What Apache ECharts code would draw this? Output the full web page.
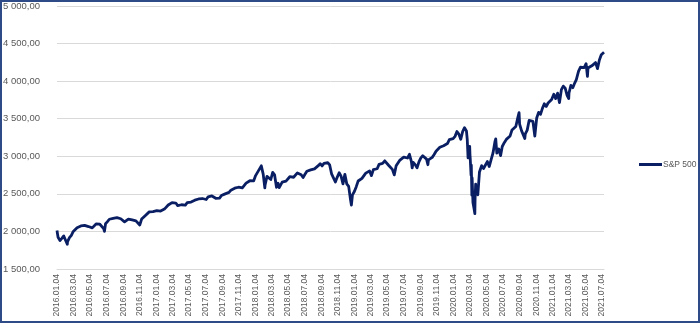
<!DOCTYPE html>
<html>
<head>
<meta charset="utf-8">
<script src="https://cdn.jsdelivr.net/npm/echarts@6/dist/echarts.min.js"></script>
<style>
html,body{margin:0;padding:0;background:#fff;}
#wrap{width:700px;height:323px;box-sizing:border-box;border:2px solid #2f4b87;position:relative;}
#chart{position:absolute;left:-2px;top:-2px;width:700px;height:323px;}
</style>
</head>
<body>
<div id="wrap"><div id="chart"></div></div>
<script>
const seriesName = 'S&P 500';
const startDate = '2016.01.04';
const endDate = '2021.07.12';
const yTicks = [1500, 2000, 2500, 3000, 3500, 4000, 4500, 5000];

const dates = [
'2016.01.04','2016.01.08','2016.01.15','2016.01.20','2016.01.22','2016.01.29','2016.02.05','2016.02.11','2016.02.12','2016.02.19','2016.02.26',
'2016.03.04','2016.03.11','2016.03.18','2016.03.24','2016.04.01','2016.04.08','2016.04.15','2016.04.22','2016.04.29',
'2016.05.06','2016.05.13','2016.05.20','2016.05.27','2016.06.03','2016.06.10','2016.06.17','2016.06.24','2016.06.27',
'2016.07.01','2016.07.08','2016.07.15','2016.07.22','2016.07.29','2016.08.05','2016.08.12','2016.08.19','2016.08.26',
'2016.09.02','2016.09.09','2016.09.16','2016.09.23','2016.09.30','2016.10.07','2016.10.14','2016.10.21','2016.10.28',
'2016.11.04','2016.11.11','2016.11.18','2016.11.25','2016.12.02','2016.12.09','2016.12.16','2016.12.23','2016.12.30',
'2017.01.06','2017.01.13','2017.01.20','2017.01.27','2017.02.03','2017.02.10','2017.02.17','2017.02.24',
'2017.03.03','2017.03.10','2017.03.17','2017.03.24','2017.03.31','2017.04.07','2017.04.13','2017.04.21','2017.04.28',
'2017.05.05','2017.05.12','2017.05.19','2017.05.26','2017.06.02','2017.06.09','2017.06.16','2017.06.23','2017.06.30',
'2017.07.07','2017.07.14','2017.07.21','2017.07.28','2017.08.04','2017.08.11','2017.08.18','2017.08.25',
'2017.09.01','2017.09.08','2017.09.15','2017.09.22','2017.09.29','2017.10.06','2017.10.13','2017.10.20','2017.10.27',
'2017.11.03','2017.11.10','2017.11.17','2017.11.24','2017.12.01','2017.12.08','2017.12.15','2017.12.22','2017.12.29',
'2018.01.05','2018.01.12','2018.01.19','2018.01.26','2018.02.02','2018.02.08','2018.02.09','2018.02.16','2018.02.23',
'2018.03.02','2018.03.09','2018.03.16','2018.03.23','2018.03.29','2018.04.02','2018.04.06','2018.04.13','2018.04.20','2018.04.27',
'2018.05.04','2018.05.11','2018.05.18','2018.05.25','2018.06.01','2018.06.08','2018.06.15','2018.06.22','2018.06.29',
'2018.07.06','2018.07.13','2018.07.20','2018.07.27','2018.08.03','2018.08.10','2018.08.17','2018.08.24','2018.08.31',
'2018.09.07','2018.09.14','2018.09.20','2018.09.28','2018.10.05','2018.10.12','2018.10.19','2018.10.26','2018.10.29',
'2018.11.02','2018.11.09','2018.11.16','2018.11.23','2018.11.30','2018.12.07','2018.12.14','2018.12.21','2018.12.24','2018.12.28',
'2019.01.04','2019.01.11','2019.01.18','2019.01.25','2019.02.01','2019.02.08','2019.02.15','2019.02.22',
'2019.03.01','2019.03.08','2019.03.15','2019.03.22','2019.03.29','2019.04.05','2019.04.12','2019.04.18','2019.04.26',
'2019.05.03','2019.05.10','2019.05.17','2019.05.24','2019.05.31','2019.06.03','2019.06.07','2019.06.14','2019.06.21','2019.06.28',
'2019.07.05','2019.07.12','2019.07.19','2019.07.26','2019.08.02','2019.08.05','2019.08.09','2019.08.16','2019.08.23','2019.08.30',
'2019.09.06','2019.09.13','2019.09.20','2019.09.27','2019.10.02','2019.10.04','2019.10.11','2019.10.18','2019.10.25',
'2019.11.01','2019.11.08','2019.11.15','2019.11.22','2019.11.29','2019.12.06','2019.12.13','2019.12.20','2019.12.27',
'2020.01.03','2020.01.10','2020.01.17','2020.01.24','2020.01.31','2020.02.07','2020.02.14','2020.02.19','2020.02.21',
'2020.02.24','2020.02.27','2020.02.28','2020.03.02','2020.03.03','2020.03.04','2020.03.05','2020.03.06','2020.03.09','2020.03.10',
'2020.03.12','2020.03.13','2020.03.16','2020.03.18','2020.03.20','2020.03.23','2020.03.24','2020.03.26','2020.03.27',
'2020.04.03','2020.04.09','2020.04.17','2020.04.24','2020.05.01','2020.05.08','2020.05.15','2020.05.22','2020.05.29',
'2020.06.05','2020.06.08','2020.06.12','2020.06.19','2020.06.26','2020.07.02','2020.07.10','2020.07.17','2020.07.24','2020.07.31',
'2020.08.07','2020.08.14','2020.08.21','2020.08.28','2020.09.02','2020.09.04','2020.09.11','2020.09.18','2020.09.23','2020.09.25',
'2020.10.02','2020.10.09','2020.10.16','2020.10.23','2020.10.30','2020.11.06','2020.11.13','2020.11.20','2020.11.27',
'2020.12.04','2020.12.11','2020.12.18','2020.12.24','2020.12.31',
'2021.01.08','2021.01.15','2021.01.22','2021.01.29','2021.02.05','2021.02.12','2021.02.19','2021.02.26',
'2021.03.04','2021.03.05','2021.03.12','2021.03.19','2021.03.26','2021.04.01','2021.04.09','2021.04.16','2021.04.23','2021.04.30',
'2021.05.07','2021.05.12','2021.05.14','2021.05.21','2021.05.28','2021.06.04','2021.06.11','2021.06.18','2021.06.25',
'2021.07.02','2021.07.09','2021.07.12'
];

const values = [
2012,1922,1880,1859,1907,1940,1880,1829,1865,1917,1948,
2000,2022,2050,2035,2073,2048,2081,2092,2065,
2057,2047,2052,2099,2099,2096,2071,2037,2001,
2103,2130,2162,2175,2174,2183,2184,2184,2169,
2180,2128,2139,2165,2168,2153,2133,2141,2126,
2085,2164,2182,2213,2192,2260,2258,2264,2239,
2277,2275,2271,2295,2297,2316,2351,2367,
2383,2373,2378,2344,2363,2355,2329,2349,2384,
2399,2391,2382,2416,2439,2432,2433,2438,2423,
2425,2459,2473,2472,2477,2441,2426,2443,
2477,2461,2500,2502,2519,2549,2553,2575,2581,
2588,2582,2579,2602,2642,2652,2675,2683,2674,
2743,2786,2810,2873,2762,2581,2620,2732,2747,
2691,2786,2752,2588,2641,2582,2604,2656,2670,2670,
2663,2728,2713,2721,2735,2779,2780,2755,2718,
2760,2801,2802,2819,2840,2833,2850,2875,2902,
2872,2905,2931,2914,2885,2767,2768,2658,2641,
2723,2781,2736,2633,2760,2633,2600,2417,2351,2486,
2532,2596,2671,2665,2707,2708,2776,2793,
2804,2743,2822,2800,2834,2893,2907,2905,2940,
2946,2881,2860,2826,2752,2744,2873,2887,2950,2942,
2990,3014,2977,3026,2932,2845,2919,2889,2847,2926,
2979,3007,2992,2962,2888,2952,2970,2986,3023,
3067,3093,3120,3110,3141,3146,3169,3221,3240,
3235,3265,3330,3295,3226,3328,3380,3386,3338,
3226,2979,2954,3090,3003,3130,3024,2972,2747,2882,
2481,2711,2386,2398,2305,2237,2447,2630,2541,
2489,2790,2875,2837,2831,2930,2864,2955,3044,
3194,3232,3041,3097,3009,3130,3185,3225,3216,3271,
3351,3373,3397,3508,3580,3427,3341,3319,3237,3298,
3348,3477,3484,3465,3270,3510,3585,3558,3638,
3699,3663,3709,3703,3756,
3825,3768,3841,3714,3887,3934,3907,3811,
3768,3842,3943,3913,3975,4020,4129,4185,4180,4181,
4233,4063,4174,4156,4204,4230,4247,4166,4281,
4352,4370,4385
];

function fmtDate(d){
  const m = d.getUTCMonth()+1, day = d.getUTCDate();
  return d.getUTCFullYear()+'.'+(m<10?'0':'')+m+'.'+(day<10?'0':'')+day;
}
function parse(s){const p=s.split('.');return Date.UTC(+p[0],+p[1]-1,+p[2]);}

const categories = [];
for (let t = parse(startDate); t <= parse(endDate); t += 86400000) categories.push(fmtDate(new Date(t)));
const lookup = {};
dates.forEach((d,i)=>{lookup[d]=values[i];});
const seriesData = categories.map(c => (c in lookup) ? lookup[c] : null);

function isLabelDay(v){
  const p = v.split('.');
  return p[2]==='04' && (+p[1])%2===1;
}
function fmtNum(v){
  const s = String(Math.round(v));
  return s.replace(/\B(?=(\d{3})+(?!\d))/g,' ') + ',00';
}

const chart = echarts.init(document.getElementById('chart'));
chart.setOption({
  animation:false,
  backgroundColor:'transparent',
  grid:{left:55,right:96,top:6,bottom:54,containLabel:false},
  legend:{
    data:[{name:seriesName, icon:'rect'}],
    orient:'vertical',
    left:634, top:155,
    itemWidth:23, itemHeight:3, itemGap:5,
    textStyle:{color:'#595959',fontSize:8.5,fontFamily:"'Liberation Sans Narrow','Liberation Sans',sans-serif",padding:[0,0,0,-4]}
  },
  xAxis:{
    type:'category',
    data:categories,
    boundaryGap:false,
    axisLine:{show:true,lineStyle:{color:'#d9d9d9',width:1}},
    axisTick:{show:false},
    splitLine:{show:false},
    axisLabel:{
      interval:(i,v)=>isLabelDay(v),
      rotate:90,
      margin:5,
      color:'#595959',
      fontSize:8.5,
      fontFamily:"'Liberation Sans Narrow','Liberation Sans',sans-serif"
    }
  },
  yAxis:{
    type:'value',
    min:yTicks[0], max:yTicks[yTicks.length-1], interval:500,
    axisLine:{show:false},
    axisTick:{show:false},
    splitLine:{lineStyle:{color:'#d9d9d9',width:1}},
    axisLabel:{
      formatter:fmtNum,
      margin:17,
      color:'#595959',
      fontSize:9.5,
      fontFamily:"'Liberation Sans Narrow','Liberation Sans',sans-serif"
    }
  },
  series:[{
    name:seriesName,
    type:'line',
    data:seriesData,
    connectNulls:true,
    symbol:'none',
    showSymbol:false,
    lineStyle:{color:'#0a1f63',width:2.8,join:'round'},
    itemStyle:{color:'#0a1f63'}
  }]
});
</script>
</body>
</html>
